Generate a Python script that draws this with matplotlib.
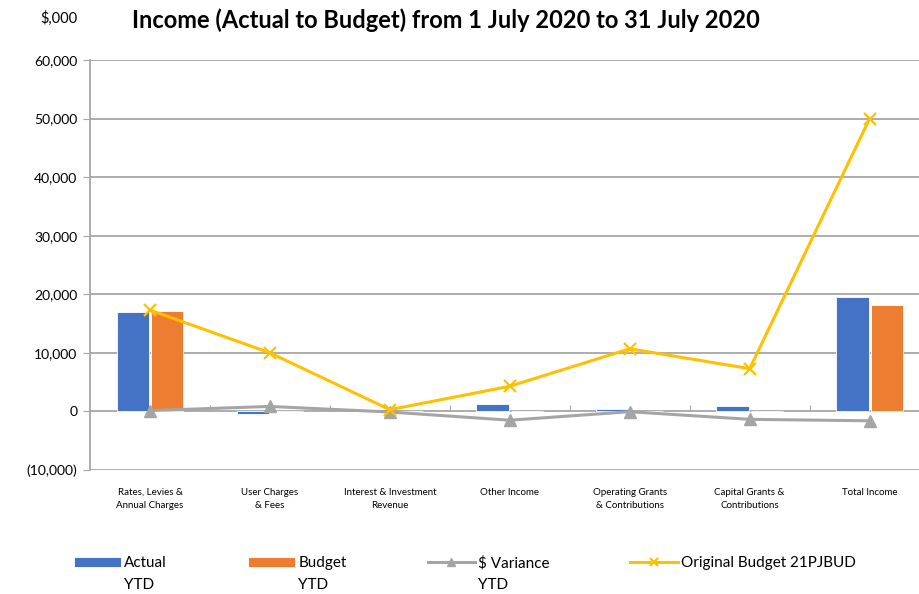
import matplotlib
matplotlib.use("Agg")
import matplotlib.pyplot as plt
import numpy as np
from matplotlib.ticker import FuncFormatter

categories = ["Rates, Levies &\nAnnual Charges", "User Charges\n& Fees", "Interest & Investment\nRevenue",
              "Other Income", "Operating Grants\n& Contributions", "Capital Grants &\nContributions",
              "Total Income"]
actual_ytd = [17000, -500, 50, 1350, 350, 850, 19600]
budget_ytd = [17200, 0, 0, 0, 0, 0, 18200]
variance_ytd = [150, 850, -100, -1500, -50, -1350, -1600]
original_budget = [17300, 10000, 300, 4300, 10700, 7300, 50000]

plt.rcParams['font.family'] = ['Lato', 'DejaVu Sans']

fig = plt.figure(figsize=(9.2, 5.94), dpi=100)
ax = fig.add_axes([90 / 920, 1 - 470 / 594, 830 / 920, 410 / 594])

x = np.arange(len(categories))
w = 0.27
b1 = ax.bar(x - w / 2 - 0.008, actual_ytd, w, color="#4472C4", edgecolor="white", linewidth=0.6,
            label="Actual", zorder=3)
b2 = ax.bar(x + w / 2 + 0.008, budget_ytd, w, color="#ED7D31", edgecolor="white", linewidth=0.6,
            label="Budget", zorder=3)
l1, = ax.plot(x, variance_ytd, color="#A5A5A5", lw=2.2, marker="^", ms=8, label="$ Variance", zorder=4)
l2, = ax.plot(x, original_budget, color="#FFC000", lw=2.2, marker="x", ms=8, mew=1.6,
              label="Original Budget 21PJBUD", zorder=5)

ax.set_ylim(-10000, 60000)
ax.set_xlim(-0.5, 6.42)
ax.set_yticks(range(-10000, 60001, 10000))
ax.yaxis.set_major_formatter(FuncFormatter(lambda v, p: f"({abs(v):,.0f})" if v < 0 else f"{v:,.0f}"))
ax.tick_params(axis="y", labelsize=10, length=5, color="#a6a6a6", pad=4)
ax.grid(axis="y", color="#a6a6a6", lw=1.3, zorder=0)
ax.set_axisbelow(True)

ax.set_xticks(x)
ax.set_xticklabels(categories, fontsize=7, linespacing=1.6)
ax.tick_params(axis="x", length=0, pad=13)

for s in ["top", "right", "bottom"]:
    ax.spines[s].set_visible(False)
ax.spines["left"].set_color("#a6a6a6")
ax.spines["left"].set_linewidth(1.3)

# category boundary marks on the zero line
zero_axis = ax.secondary_xaxis(10000 / 70000)
zero_axis.set_xticks(np.arange(0.5, 6, 1))
zero_axis.tick_params(length=4, direction="in", color="#a6a6a6", labelbottom=False)
zero_axis.spines["bottom"].set_visible(False)

fig.text(40 / 920, 1 - 18 / 594, "$,000", fontsize=10.5, va="center")
fig.text(446 / 920, 1 - 20 / 594, "Income (Actual to Budget) from 1 July 2020 to 31 July 2020",
         fontsize=17, fontweight="bold", ha="center", va="center")

handles = [b1, b2, l1, l2]
leg = fig.legend(handles, [h.get_label() for h in handles], loc="center left",
                 bbox_to_anchor=(60 / 920, 1 - 563 / 594), ncol=4, frameon=False,
                 fontsize=11, handlelength=3.1, handletextpad=0.2, columnspacing=5.3,
                 markerscale=0.8)
fig.canvas.draw()
inv = fig.transFigure.inverted()
for t in leg.get_texts()[:3]:
    bb = t.get_window_extent()
    x0 = inv.transform((bb.x0, bb.y0))[0]
    fig.text(x0, 1 - 585 / 594, "YTD", fontsize=11, va="center")

fig.savefig("out.png", dpi=100)
